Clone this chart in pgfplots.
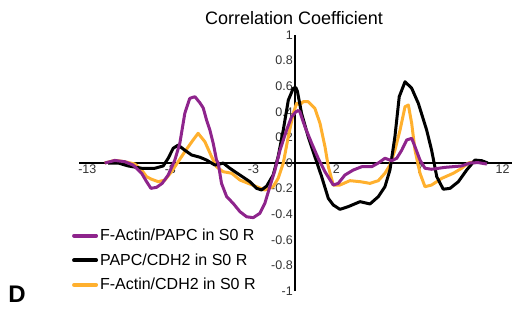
\documentclass[border=0pt]{standalone}
\usepackage{pgfplots}
\pgfplotsset{compat=1.18}
\usepackage{fontspec}
\setmainfont{Liberation Sans}
\definecolor{cpurple}{RGB}{142,36,140}
\definecolor{corange}{RGB}{255,176,46}
\definecolor{tickgray}{RGB}{50,50,50}
\begin{document}
\begin{tikzpicture}[x=1pt,y=1pt]
\begin{axis}[
  at={(79pt,26pt)}, anchor=south west,
  scale only axis, width=433pt, height=256pt,
  xmin=-13, xmax=13.07, ymin=-1, ymax=1,
  axis lines=middle,
  axis line style={line width=2pt,-},
  hide obscured x ticks=false, hide obscured y ticks=false,
  xtick={-12.5,-7.5,-2.5,2.5,7.5,12.5},
  xticklabels={-13,-8,-3,2,7,12},
  ytick={-1,-0.8,-0.6,-0.4,-0.2,0,0.2,0.4,0.6,0.8,1},
  yticklabels={-1,-0.8,-0.6,-0.4,-0.2,0,0.2,0.4,0.6,0.8,1},
  major tick length=0pt,
  /pgf/number format/assume math mode=true,
  tick label style={font=\fontsize{12.5}{14}\selectfont, text=tickgray},
  yticklabel style={inner sep=1pt, xshift=-1pt},
  xticklabel style={inner sep=1pt, yshift=-1pt},
  clip=false,
  legend style={draw=none, fill=none, inner sep=0pt, outer sep=0pt,
    at={(rel axis cs:-0.016,0.12)}, anchor=west,
    font=\fontsize{16}{19}\selectfont, row sep=7.5pt},
  legend cell align=left,
  legend image code/.code={\draw[#1, line width=4pt, line cap=round] (0pt,0pt) -- (22pt,0pt);},
]
\addplot[corange, line width=3pt, line join=round, forget plot] coordinates {
(-11.45,0.0) (-10.84,0.02) (-10.24,0.01) (-9.64,-0.008) (-9.23,-0.055) (-8.93,-0.107) (-8.63,-0.127) (-8.23,-0.146) (-7.83,-0.133) (-7.43,-0.068) (-7.03,0.01) (-6.63,0.088) (-6.13,0.18) (-5.83,0.232) (-5.42,0.166) (-5.02,0.05) (-4.72,-0.029) (-4.32,-0.068) (-3.81,-0.08) (-3.31,-0.133) (-2.81,-0.159) (-2.31,-0.185) (-1.81,-0.211) (-1.31,-0.185) (-1.01,-0.12) (-0.70,0) (-0.40,0.205) (-0.10,0.388) (0.10,0.466) (0.30,0.455) (0.50,0.479) (0.80,0.479) (1.20,0.427) (1.51,0.31) (1.81,0.127) (2.01,-0.029) (2.31,-0.172) (2.71,-0.172) (3.31,-0.138) (3.92,-0.146) (4.52,-0.159) (5.02,-0.138) (5.42,-0.08) (5.72,-0.016) (6.02,0.10) (6.33,0.258) (6.63,0.44) (6.83,0.453) (7.03,0.31) (7.23,0.10) (7.53,-0.08) (7.83,-0.185) (8.23,-0.172) (8.84,-0.12) (9.54,-0.08) (10.04,-0.041) (10.44,0) (10.84,0.01)
};
\addplot[black, line width=3pt, line join=round, forget plot] coordinates {
(-11.25,0) (-10.64,0) (-10.04,-0.023) (-9.23,-0.041) (-8.43,-0.041) (-7.93,-0.023) (-7.63,0.037) (-7.33,0.115) (-7.03,0.14) (-6.63,0.10) (-6.22,0.0625) (-5.72,0.045) (-5.32,0.023) (-4.82,-0.016) (-4.52,-0.008) (-4.32,0) (-3.92,-0.041) (-3.31,-0.094) (-2.71,-0.146) (-2.31,-0.198) (-2.01,-0.211) (-1.70,-0.18) (-1.31,-0.094) (-1.01,0.05) (-0.70,0.258) (-0.40,0.49) (-0.10,0.584) (0.05,0.59) (0.15,0.56) (0.40,0.388) (0.80,0.205) (1.20,0.05) (1.61,-0.107) (2.01,-0.276) (2.31,-0.328) (2.71,-0.362) (3.21,-0.341) (3.92,-0.302) (4.52,-0.32) (5.02,-0.263) (5.42,-0.185) (5.72,-0.055) (6.02,0.205) (6.28,0.518) (6.63,0.635) (7.03,0.584) (7.43,0.466) (7.93,0.258) (8.23,0.10) (8.54,-0.107) (8.93,-0.205) (9.34,-0.198) (9.84,-0.146) (10.34,-0.055) (10.84,0.023) (11.25,0.018) (11.61,0)
};
\addplot[cpurple, line width=3pt, line join=round, forget plot] coordinates {
(-11.45,0.00) (-10.84,0.02) (-10.24,0.01) (-9.74,-0.016) (-9.23,-0.08) (-8.93,-0.146) (-8.67,-0.198) (-8.33,-0.19) (-7.99,-0.159) (-7.63,-0.094) (-7.23,0.023) (-6.93,0.154) (-6.63,0.388) (-6.33,0.505) (-6.02,0.518) (-5.72,0.47) (-5.52,0.43) (-5.32,0.336) (-5.12,0.258) (-4.92,0.154) (-4.72,0.023) (-4.62,0) (-4.42,-0.159) (-4.11,-0.263) (-3.72,-0.315) (-3.31,-0.38) (-2.91,-0.42) (-2.51,-0.427) (-2.11,-0.393) (-1.81,-0.315) (-1.51,-0.185) (-1.20,-0.055) (-0.90,0.10) (-0.50,0.258) (-0.20,0.362) (0.06,0.40) (0.2,0.41) (0.30,0.40) (0.60,0.284) (1.01,0.154) (1.40,0.037) (1.81,-0.068) (2.31,-0.172) (2.61,-0.159) (3.01,-0.094) (3.51,-0.055) (4.02,-0.029) (4.62,-0.029) (5.02,0) (5.42,0.037) (5.83,0.018) (6.13,0.037) (6.43,0.10) (6.73,0.18) (7.03,0.193) (7.23,0.127) (7.53,0.023) (7.83,-0.041) (8.23,-0.049) (9.04,-0.034) (10.04,-0.023) (10.54,0) (11.04,0.003) (11.55,-0.008)
};
\addlegendimage{cpurple}
\addlegendentry{F-Actin/PAPC in S0 R}
\addlegendimage{black}
\addlegendentry{PAPC/CDH2 in S0 R}
\addlegendimage{corange}
\addlegendentry{F-Actin/CDH2 in S0 R}
\end{axis}
\node[font=\fontsize{18}{21}\selectfont, inner sep=0pt] at (294pt,299pt) {Correlation Coefficient};
\node[font=\fontsize{24}{28}\selectfont\bfseries, inner sep=0pt] at (17pt,23pt) {D};
\pgfresetboundingbox
\useasboundingbox (0,0) rectangle (514pt,317pt);
\end{tikzpicture}
\end{document}
